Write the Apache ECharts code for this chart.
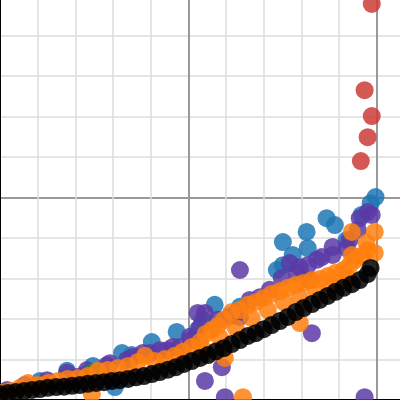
<!DOCTYPE html>
<html>
<head>
<meta charset="utf-8">
<script src="https://cdn.jsdelivr.net/npm/echarts@6/dist/echarts.min.js"></script>
<style>html,body{margin:0;padding:0;background:#fff}#c{width:400px;height:400px}</style>
</head>
<body>
<div id="c"></div>
<script>
// Series values [x, y] in grid units
var blackPts = [[0.00,0.15],[0.21,0.17],[0.42,0.20],[0.64,0.22],[0.85,0.25],[1.06,0.27],[1.27,0.30],[1.49,0.32],[1.70,0.33],[1.91,0.35],[2.12,0.37],[2.33,0.40],[2.55,0.42],[2.76,0.44],[2.97,0.47],[3.18,0.49],[3.40,0.52],[3.61,0.56],[3.82,0.59],[4.03,0.64],[4.24,0.69],[4.46,0.75],[4.67,0.81],[4.88,0.89],[5.09,0.96],[5.31,1.04],[5.52,1.11],[5.73,1.20],[5.94,1.28],[6.15,1.38],[6.37,1.48],[6.58,1.58],[6.79,1.65],[7.00,1.75],[7.21,1.85],[7.43,1.95],[7.64,2.05],[7.85,2.17],[8.06,2.27],[8.28,2.37],[8.49,2.47],[8.70,2.57],[8.91,2.67],[9.12,2.77],[9.34,2.86],[9.55,2.96],[9.76,3.11],[9.84,3.26]];
var orangePts = [[0.00,0.17],[0.27,0.22],[0.53,0.30],[0.74,0.42],[1.01,0.37],[1.27,0.42],[1.54,0.47],[1.80,0.52],[2.07,0.54],[2.33,0.59],[2.60,0.72],[2.86,0.74],[3.13,0.79],[3.40,0.84],[3.66,0.94],[3.85,1.09],[4.11,0.96],[4.38,1.01],[4.64,1.09],[4.85,1.19],[5.09,1.31],[5.31,1.43],[5.46,1.63],[5.62,1.73],[5.78,1.83],[5.94,1.98],[6.15,2.17],[6.37,2.22],[6.58,2.35],[6.79,2.42],[7.00,2.52],[7.21,2.62],[7.43,2.69],[7.64,2.77],[7.85,2.84],[8.06,2.89],[8.28,2.96],[8.49,2.99],[8.70,3.06],[8.91,3.14],[9.12,3.21],[9.28,3.33],[9.44,3.46],[9.60,3.56],[9.76,3.70],[9.34,4.15],[9.95,4.15],[9.73,3.88],[9.95,3.63],[9.34,3.58],[5.41,1.23],[5.84,1.53],[6.26,1.78],[6.68,2.02],[7.11,2.22],[7.53,2.42],[7.96,2.52],[8.38,2.72],[8.81,2.84],[9.23,3.01],[7.96,1.90],[5.97,1.04],[6.45,0.07],[2.44,0.15]];
var purplePts = [[9.76,4.64],[9.87,4.57],[9.55,4.49],[9.50,4.20],[9.28,3.95],[9.20,3.75],[8.83,3.78],[8.83,3.58],[8.54,3.53],[8.41,3.46],[8.17,3.33],[7.96,3.28],[7.88,3.14],[7.69,3.38],[7.48,3.01],[8.22,2.96],[6.90,2.54],[7.16,2.72],[6.63,2.47],[6.37,2.05],[6.29,2.17],[6.10,2.07],[5.78,1.98],[5.44,2.15],[5.31,1.80],[5.25,2.15],[5.09,1.48],[5.04,1.56],[4.77,1.31],[4.59,1.31],[4.43,1.23],[4.24,1.23],[3.98,1.16],[3.79,1.16],[3.53,1.06],[3.37,0.99],[2.92,0.91],[2.84,0.86],[2.31,0.74],[2.25,0.62],[2.04,0.57],[1.78,0.67],[1.25,0.49],[0.66,0.37],[0.19,0.25],[6.37,3.21],[8.28,1.65],[5.44,0.47],[5.89,0.81],[5.97,0.07],[9.68,0.07]];
var bluePts = [[9.97,5.01],[9.84,4.86],[9.60,4.57],[8.67,4.49],[8.89,4.32],[8.14,4.15],[7.51,3.90],[8.17,3.75],[7.77,3.58],[7.51,3.33],[7.35,3.21],[9.20,3.95],[5.70,2.35],[6.37,2.30],[5.38,1.98],[5.25,1.73],[4.69,1.68],[4.03,1.43],[3.24,1.16],[3.50,1.11],[2.47,0.84],[1.78,0.72],[1.06,0.47],[3.05,0.32]];
var redPts = [[9.87,9.78],[9.68,7.65],[9.87,7.01],[9.76,6.49],[9.58,5.90]];
var greenPts = [[2.44,0.67]];

function sc(name, data, color) {
  return { name: name, type: 'scatter', data: data, symbolSize: 18,
    itemStyle: { color: color, opacity: 0.85 }, emphasis: { disabled: true }, animation: false };
}
var axisCommon = {
  type: 'value', interval: 5, min: 0,
  axisLabel: { show: false }, axisTick: { show: false },
  axisLine: { show: true, onZero: false, lineStyle: { color: '#000', width: 2 } },
  splitLine: { show: true, lineStyle: { color: '#999', width: 2 } },
  minorTick: { show: false, splitNumber: 5 },
  minorSplitLine: { show: true, lineStyle: { color: '#ddd', width: 1.5 } }
};
var chart = echarts.init(document.getElementById('c'), null, { renderer: 'canvas' });
chart.setOption({
  animation: false,
  backgroundColor: '#fff',
  grid: { left: 0, right: -165, top: -5, bottom: 0, containLabel: false, outerBoundsMode: 'none' },
  xAxis: Object.assign({}, axisCommon, { max: 15 }),
  yAxis: Object.assign({}, axisCommon, { max: 10 }),
  series: [
    sc('blue', bluePts, '#1f77b4'),
    sc('purple', purplePts, '#5b3aa6'),
    sc('green', greenPts, '#2c8a2c'),
    sc('orange', orangePts, '#ff7f0e'),
    sc('black', blackPts, '#000000'),
    sc('red', redPts, '#cc3b36')
  ]
});
</script>
</body>
</html>
